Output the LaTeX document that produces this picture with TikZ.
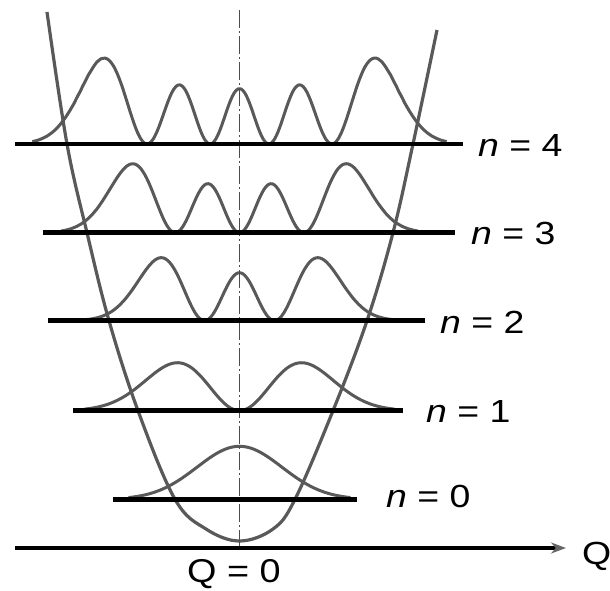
\documentclass[tikz,border=0pt]{standalone}
\usepackage{fontspec}
\setmainfont{Liberation Sans}
\usetikzlibrary{arrows.meta}
\begin{document}
\begin{tikzpicture}[x=1pt,y=-1pt,
  declare function={
    pa(\t)=exp(-\t*\t/2);
    pb(\t)=2*\t*exp(-\t*\t/2);
    pc(\t)=(4*\t*\t-2)*exp(-\t*\t/2);
    pd(\t)=(8*\t*\t*\t-12*\t)*exp(-\t*\t/2);
    pe(\t)=(16*\t*\t*\t*\t-48*\t*\t+12)*exp(-\t*\t/2);
  },
  wave/.style={draw=black!65,line width=3pt,line join=round},
  level/.style={draw=black,line width=4.6pt},
  well/.style={draw=black!65,line width=3.2pt,line join=round},
  centre/.style={draw=black!70,line width=1.2pt,dash pattern=on 18pt off 3pt on 2pt off 3pt},
  lab/.style={font=\fontsize{32}{38}\selectfont,inner sep=0pt,xscale=1.17,anchor=base west}
]
\useasboundingbox (0,0) rectangle (610,590);
\fill[white] (0,0) rectangle (610,590);
% probability densities
\draw[wave] plot[domain=-3.7:3.7,samples=200,smooth] ({239.5+56*\x},{144-0.3846*pe(\x)*pe(\x)});
\draw[wave] plot[domain=-3.4:3.4,samples=180,smooth] ({239.5+52.5*\x},{232.7-2.347*pd(\x)*pd(\x)});
\draw[wave] plot[domain=-3.45:3.45,samples=160,smooth] ({239.5+49.5*\x},{320.7-12.0*pc(\x)*pc(\x)});
\draw[wave] plot[domain=-2.5:2.5,samples=120,smooth] ({239.5+62*\x},{410.7-32.6*pb(\x)*pb(\x)});
\draw[wave] plot[domain=-1.85:1.85,samples=100,smooth] ({239.5+60*\x},{499.3-53*pa(\x)*pa(\x)});
% potential well
\draw[well] plot[smooth,tension=0.6] coordinates {(47,12) (67,144) (87,232.7) (109,320.7) (138,410.7) (175,499.3) (206,529) (239.5,541) (273,529) (295,499.3) (333,410.7) (367,320.7) (393,232.7) (413,144) (437,30)};
% centre line
\coordinate (ctop) at (239.5,10);
\coordinate (cbot) at (239.5,548);
\draw[centre] (ctop) -- (cbot);
% energy levels
\coordinate (l4a) at (15,144);  \coordinate (l4b) at (463,144);
\coordinate (l3a) at (43,232.7); \coordinate (l3b) at (455,232.7);
\coordinate (l2a) at (48,320.7); \coordinate (l2b) at (425,320.7);
\coordinate (l1a) at (73,410.7); \coordinate (l1b) at (403,410.7);
\coordinate (l0a) at (113,499.3); \coordinate (l0b) at (357,499.3);
\draw[level] (l4a) -- (l4b);
\draw[level] (l3a) -- (l3b);
\draw[level] (l2a) -- (l2b);
\draw[level] (l1a) -- (l1b);
\draw[level] (l0a) -- (l0b);
% axis
\coordinate (ax0) at (15,548);
\coordinate (ax1) at (566,548);
\draw[draw=black,line width=4pt,-{Stealth[length=15pt,width=11pt,color=black!60]}] (ax0) -- (ax1);
% labels
\node[lab] (t4) at (478,156) {\textit{n} = 4};
\node[lab] (t3) at (471,244) {\textit{n} = 3};
\node[lab] (t2) at (440,333.5) {\textit{n} = 2};
\node[lab] (t1) at (426,422) {\textit{n} = 1};
\node[lab] (t0) at (386,507) {\textit{n} = 0};
\node[lab] (tq) at (582,564) {Q};
\node[lab,anchor=base,font=\fontsize{33}{39}\selectfont,xscale=0.98] (tq0) at (234,582) {Q = 0};
\end{tikzpicture}
\end{document}
